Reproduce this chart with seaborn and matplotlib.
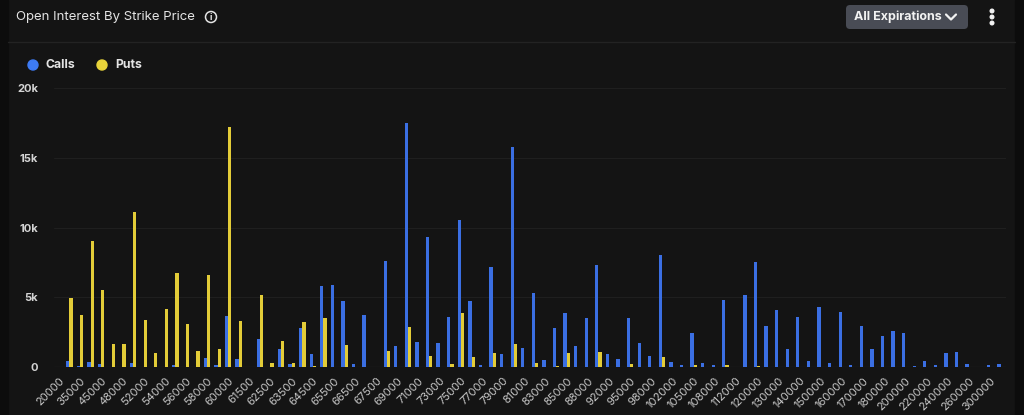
import pandas as pd
import seaborn as sns
import matplotlib.pyplot as plt
from matplotlib.patches import FancyBboxPatch, Rectangle, Circle
from matplotlib.ticker import FuncFormatter

# strike prices (every other one is labelled on the axis)
strikes = [
    "20000", "30000", "35000", "40000", "45000", "47000", "48000", "50000",
    "52000", "53000", "54000", "55000", "56000", "57000", "58000", "59000",
    "60000", "61000", "61500", "62000", "62500", "63000", "63500", "64000",
    "64500", "65000", "65500", "66000", "66500", "67000", "67500", "68000",
    "69000", "70000", "71000", "72000", "73000", "74000", "75000", "76000",
    "77000", "78000", "79000", "80000", "81000", "82000", "83000", "84000",
    "85000", "86000", "88000", "90000", "92000", "94000", "95000", "96000",
    "98000", "100000", "102000", "104000", "105000", "106000", "108000", "110000",
    "112000", "115000", "120000", "125000", "130000", "135000", "140000", "145000",
    "150000", "155000", "160000", "165000", "170000", "175000", "180000", "190000",
    "200000", "210000", "220000", "230000", "240000", "250000", "260000", "280000",
    "300000", "320000",
]

calls = [
    50, 450, 100, 360, 240, 0, 0, 290, 50, 0, 0, 140, 50, 0, 640, 140,
    3650, 570, 0, 2030, 0, 1340, 240, 2790, 930, 5820, 5870, 4770, 220, 3740,
    0, 7580, 1530, 17460, 1810, 9330, 1720, 3600, 10570, 4720, 140, 7180, 930,
    15740, 1410, 5320, 530, 2790, 3890, 1550, 3550, 7350, 930, 600, 3550, 1770,
    790, 8010, 380, 140, 2460, 310, 140, 4790, 0, 5200, 7560, 2980, 4100, 1340,
    3630, 450, 4290, 310, 3960, 140, 2980, 1340, 2240, 2600, 2460, 70, 450, 170,
    1000, 1070, 220, 0, 140, 240,
]

puts = [
    50, 4990, 3770, 9060, 5530, 1670, 1670, 11110, 3410, 1050, 4150, 6770, 3120,
    1150, 6630, 1340, 17170, 3340, 0, 5180, 290, 1880, 290, 3220, 70, 3530, 0,
    1600, 0, 0, 0, 1190, 0, 2910, 0, 790, 0, 220, 3910, 720, 0, 1000, 0, 1690,
    0, 290, 0, 70, 1000, 0, 0, 1120, 0, 0, 240, 0, 0, 720, 0, 0, 140, 0, 0, 140,
    0, 0, 120, 0, 0, 0, 0, 0, 0, 0, 0, 0, 0, 0, 0, 0, 0, 0, 0, 0, 0, 0, 0, 0, 0, 0,
]

df = pd.DataFrame({
    "strike": strikes * 2,
    "oi": calls + puts,
    "type": ["Calls"] * len(strikes) + ["Puts"] * len(strikes),
})

BG = "#141414"
BLUE = "#3b6fe3"
YELLOW = "#e3cc38"
TXT = "#e4e4e4"

sns.set_theme(style="dark")
plt.rcParams["font.family"] = ["Inter", "DejaVu Sans"]

W, H = 1024, 415
fig = plt.figure(figsize=(W / 100, H / 100), dpi=100)
fig.patch.set_facecolor(BG)

# ----------------------------
# background / header in pixel coords
# ----------------------------
bg = fig.add_axes([0, 0, 1, 1], zorder=0)
bg.set_xlim(0, W)
bg.set_ylim(H, 0)
bg.axis("off")
bg.add_patch(Rectangle((0, 0), 8, H, color="#0c0c0c"))
bg.add_patch(Rectangle((1015, 0), 9, H, color="#0c0c0c"))
bg.plot([8, 1015], [42, 42], color="#232323", lw=1)

bg.text(16, 17, "Open Interest By Strike Price", color=TXT, fontsize=9.5,
        va="center", ha="left")
bg.add_patch(Circle((211, 17), 5.5, fill=False, ec=TXT, lw=1.1))
bg.text(211, 17.5, "i", color=TXT, fontsize=6.5, ha="center", va="center",
        fontweight="bold")

bg.add_patch(FancyBboxPatch((846, 5), 122, 24, boxstyle="round,pad=0,rounding_size=4",
                            fc="#494c55", ec="none"))
bg.text(854, 17, "All Expirations", color="#f2f2f2", fontsize=9,
        fontweight="bold", va="center", ha="left")
bg.plot([946, 951, 956], [14.5, 19.5, 14.5], color="#f2f2f2", lw=1.6,
        solid_capstyle="round")
for yy in (11, 17, 23):
    bg.add_patch(Circle((992, yy), 1.8, color="#f2f2f2"))

# legend
bg.add_patch(Circle((33, 65), 5, color="#3d7bf5"))
bg.text(46, 65, "Calls", color=TXT, fontsize=8.8, fontweight="bold", va="center")
bg.add_patch(Circle((102, 65), 5, color="#e8d33a"))
bg.text(115, 65, "Puts", color=TXT, fontsize=8.8, fontweight="bold", va="center")

# ----------------------------
# bars
# ----------------------------
x0, x1 = 53.6, 1005.8
y0, y1 = 367.3, 87.7
ax = fig.add_axes([x0 / W, 1 - y0 / H, (x1 - x0) / W, (y0 - y1) / H], zorder=1)
ax.set_facecolor("none")

sns.barplot(data=df, x="strike", y="oi", hue="type", order=strikes,
            palette=[BLUE, YELLOW], width=0.62, gap=0, saturation=1,
            linewidth=0, edgecolor="none", legend=False, ax=ax)

ax.set_ylim(0, 20000)
ax.set_xlim(-0.5, len(strikes) - 0.5)
ax.set_yticks([0, 5000, 10000, 15000, 20000])
ax.yaxis.set_major_formatter(FuncFormatter(lambda v, p: "0" if v == 0 else f"{int(v/1000)}k"))
ax.set_xticks(range(0, len(strikes), 2))
ax.set_xticklabels(strikes[::2], rotation=45, ha="right", rotation_mode="anchor")
ax.tick_params(axis="x", colors="#c8c8c8", labelsize=8, length=0, pad=6)
ax.tick_params(axis="y", colors="#d4d4d4", labelsize=8, length=0, pad=11.2)
for lbl in ax.get_yticklabels():
    lbl.set_fontweight("bold")
ax.set_xlabel("")
ax.set_ylabel("")
for s in ax.spines.values():
    s.set_visible(False)
ax.yaxis.grid(True, color="#1f1f1f", lw=0.8)
ax.xaxis.grid(False)
ax.set_axisbelow(True)
ax.axhline(0, color="#3a3a3a", lw=0.8, zorder=0)

fig.savefig("out.png", dpi=100, facecolor=BG)
